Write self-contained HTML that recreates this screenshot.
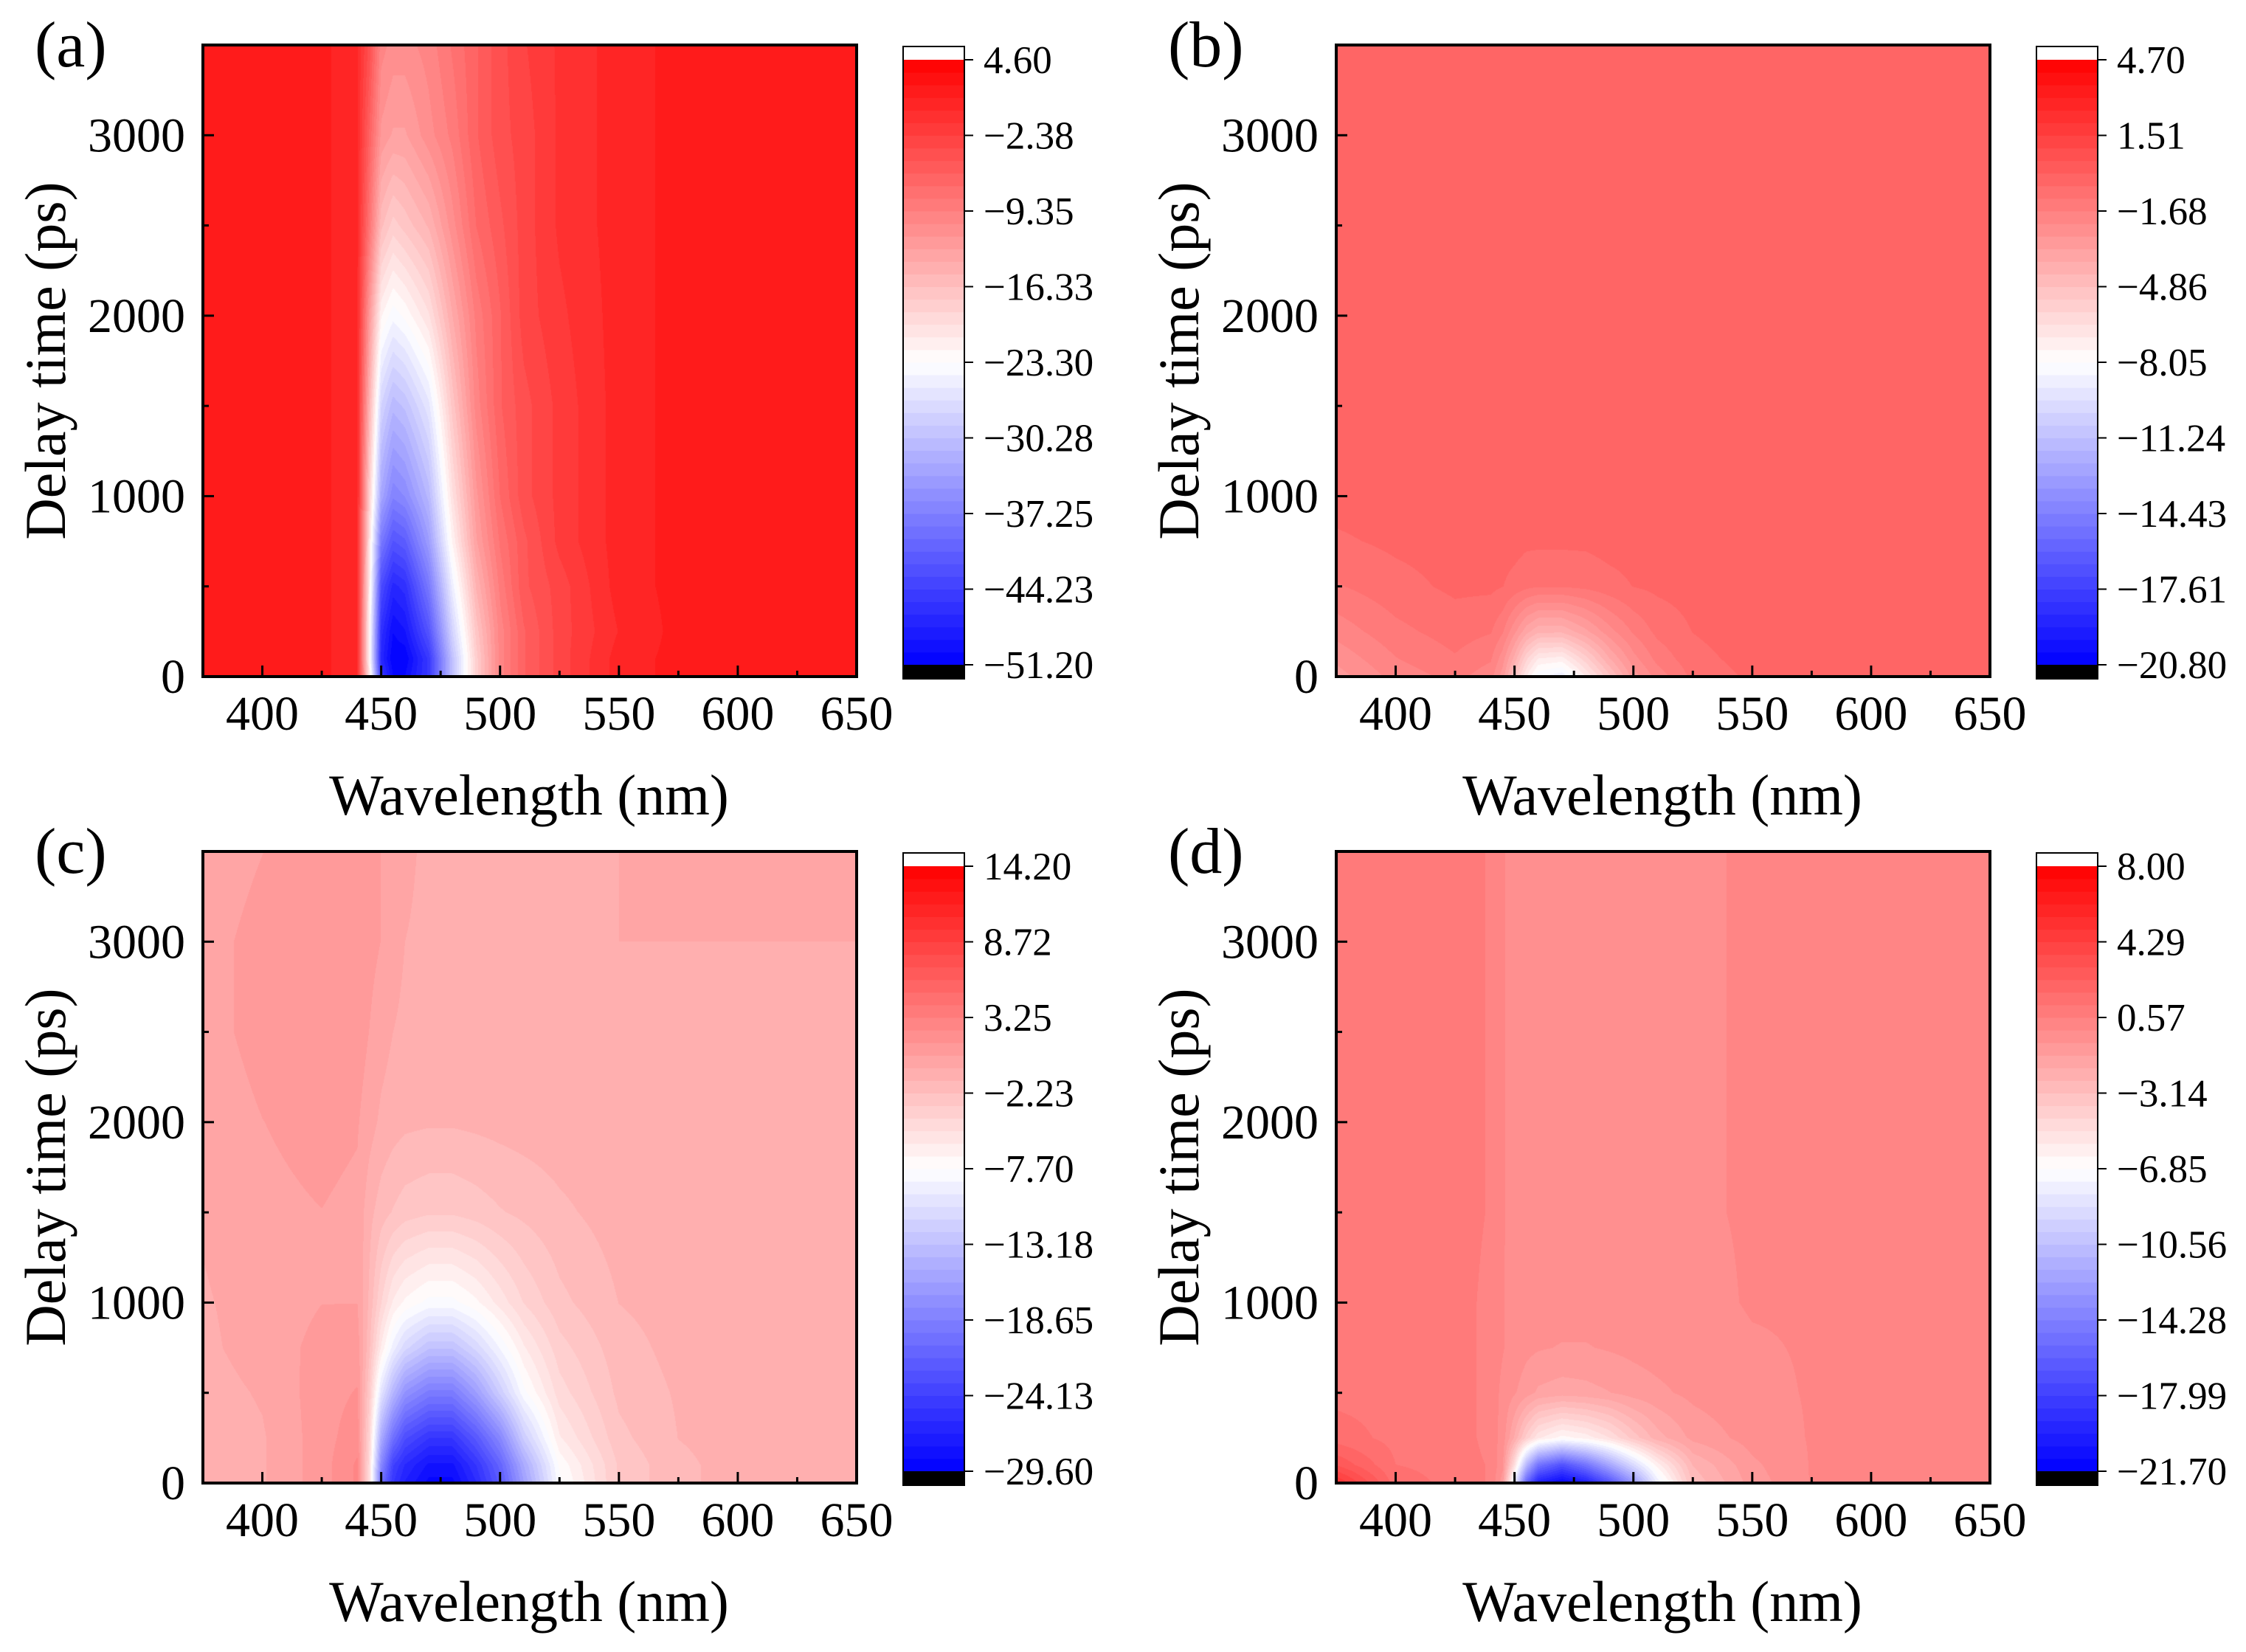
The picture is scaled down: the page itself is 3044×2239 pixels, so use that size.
<!DOCTYPE html>
<html><head><meta charset="utf-8">
<style>
html,body{margin:0;padding:0;background:#fff;}
#root{position:relative;width:3044px;height:2239px;overflow:hidden;background:#fff;}
canvas{position:absolute;}
svg{position:absolute;left:0;top:0;}
text{font-family:"Liberation Serif","Times New Roman",serif;fill:#000;}
</style></head>
<body>
<div id="root">
<svg id="ov" width="3044" height="2239"></svg>
</div>
<script>
// ---- data ----
const wavelengths=[375,400,425,440,445,450,455,460,470,480,490,500,510,525,550,575,600,650];
const delays=[0,100,250,500,750,1000,1500,2000,2500,3000,3500];
const valuesA=[
[1.5,1.5,1.5,0,-20,-45,-50,-50,-45,-30,-18,-10,-6,-3,0.5,1.5,1.5,1.5],
[1.5,1.5,1.5,0,-22,-47,-51,-51,-45,-30,-18,-10,-6,-3,0.5,1.5,1.5,1.5],
[1.5,1.5,1.5,0,-22,-46,-50,-49,-42,-28,-17,-10,-6,-3,0,1.5,1.5,1.5],
[1.5,1.5,1.5,0,-21,-43,-47,-46,-38,-25,-15,-9,-5,-3,0.5,1.5,1.5,1.5],
[1.5,1.5,1.5,0,-20,-38,-42,-41,-34,-22,-13,-8,-5,-2,0.5,1.5,1.5,1.5],
[1.5,1.5,1.5,0,-18,-33,-37,-36,-31,-20,-12,-7,-4,-2,0.5,1.5,1.5,1.5],
[1.5,1.5,1.5,0,-15,-28,-31,-30,-26,-17,-10,-6,-4,-2,0.5,1.5,1.5,1.5],
[1.5,1.5,1.5,0,-12,-22,-24,-23,-20,-14,-9,-6,-3,-1.5,0.5,1.5,1.5,1.5],
[1.5,1.5,1.5,0,-8,-16,-18,-17,-15,-11,-7,-5,-3,-1,0.5,1.5,1.5,1.5],
[1.5,1.5,1.5,0,-6,-12,-13,-13,-11,-9,-6,-4,-3,-1,0.5,1.5,1.5,1.5],
[1.5,1.5,1.5,0,-4,-10,-11,-11,-10,-8,-6,-4,-2.5,-1,0.5,1.5,1.5,1.5]];
const valuesB=[
[-3,-2,-1.5,-2,-3,-5,-7,-8.5,-9,-7,-5,-3,-2,-1,-0.5,-0.3,-0.3,-0.3],
[-2.6,-1.7,-1.2,-1.6,-2.5,-4,-5.8,-7,-7.2,-5.6,-3.8,-2.4,-1.5,-0.8,-0.4,-0.3,-0.3,-0.3],
[-2,-1.3,-0.9,-1.1,-1.6,-2.6,-3.6,-4.2,-4.2,-3.4,-2.4,-1.6,-1,-0.6,-0.3,-0.3,-0.3,-0.3],
[-1.2,-0.8,-0.5,-0.5,-0.6,-0.8,-1,-1.1,-1.1,-1,-0.8,-0.6,-0.5,-0.4,-0.3,-0.3,-0.3,-0.3],
[-0.7,-0.5,-0.4,-0.4,-0.4,-0.4,-0.5,-0.5,-0.5,-0.5,-0.4,-0.4,-0.3,-0.3,-0.3,-0.3,-0.3,-0.3],
[-0.4,-0.3,-0.3,-0.3,-0.3,-0.3,-0.3,-0.3,-0.3,-0.3,-0.3,-0.3,-0.3,-0.3,-0.3,-0.3,-0.3,-0.3],
[-0.3,-0.3,-0.3,-0.3,-0.3,-0.3,-0.3,-0.3,-0.3,-0.3,-0.3,-0.3,-0.3,-0.3,-0.3,-0.3,-0.3,-0.3],
[-0.3,-0.3,-0.3,-0.3,-0.3,-0.3,-0.3,-0.3,-0.3,-0.3,-0.3,-0.3,-0.3,-0.3,-0.3,-0.3,-0.3,-0.3],
[-0.3,-0.3,-0.3,-0.3,-0.3,-0.3,-0.3,-0.3,-0.3,-0.3,-0.3,-0.3,-0.3,-0.3,-0.3,-0.3,-0.3,-0.3],
[-0.3,-0.3,-0.3,-0.3,-0.3,-0.3,-0.3,-0.3,-0.3,-0.3,-0.3,-0.3,-0.3,-0.3,-0.3,-0.3,-0.3,-0.3],
[-0.3,-0.3,-0.3,-0.3,-0.3,-0.3,-0.3,-0.3,-0.3,-0.3,-0.3,-0.3,-0.3,-0.3,-0.3,-0.3,-0.3,-0.3]];
const valuesC=[
[-1,-0.5,1,2.5,-5,-20,-25,-27,-29,-29,-26,-22,-16,-8,-3,-1.5,-1,-1],
[-1,-0.5,1,2.5,-4.5,-18,-24,-26,-28,-28,-25,-21,-15,-7.5,-3,-1.5,-1,-1],
[-1,-0.5,1,2,-4,-15,-20,-23,-25,-25,-22,-18,-12,-6,-2.5,-1.3,-1,-1],
[-0.8,-0.3,1,1.5,-3,-10,-14,-17,-19,-19,-16,-12,-8,-4.5,-2,-1.2,-1,-1],
[-0.6,0,0.8,1,-2,-6,-9,-11,-13,-13,-11,-8.5,-6,-3.5,-1.7,-1,-0.8,-0.8],
[-0.5,0,0.5,0.5,-1.5,-4,-6,-7,-8,-8,-7,-5.5,-4,-2.5,-1.3,-0.9,-0.8,-0.8],
[-0.3,0.3,0.5,0.3,-1,-1.8,-2.3,-2.7,-3,-3,-2.7,-2.3,-2,-1.5,-0.9,-0.8,-0.7,-0.7],
[0,0.5,0.8,0.6,0,-0.6,-0.9,-1.1,-1.2,-1.2,-1.1,-1,-0.9,-0.8,-0.7,-0.6,-0.6,-0.6],
[0.2,0.8,1,1,0.5,0,-0.4,-0.6,-0.7,-0.7,-0.7,-0.6,-0.6,-0.6,-0.5,-0.5,-0.5,-0.5],
[0.2,0.8,1,1,0.8,0.5,0,-0.4,-0.5,-0.5,-0.5,-0.5,-0.5,-0.5,-0.4,-0.4,-0.4,-0.4],
[0,0.5,1,1,0.8,0.5,0,-0.3,-0.5,-0.5,-0.5,-0.5,-0.5,-0.5,-0.4,-0.4,-0.4,-0.4]];
const valuesD=[
[5,1.5,1,0.5,-1,-8,-16,-20,-21.5,-20,-17,-13,-8,-3,-1,0,0,0],
[3,1.2,1,0.5,-0.5,-5,-11,-15,-17,-15,-12,-9,-6,-2.5,-0.8,0,0,0],
[1.5,1,1,0.3,-0.3,-2,-4,-5.5,-6.5,-6,-5,-3.5,-2.2,-1.1,-0.4,0,0,0],
[1,1,1,0.3,-0.2,-0.6,-1,-1.4,-1.6,-1.5,-1.3,-1,-0.8,-0.5,-0.2,0,0,0],
[1,1,1,0.3,0,-0.3,-0.5,-0.6,-0.7,-0.7,-0.6,-0.5,-0.4,-0.3,-0.1,0,0,0],
[1,1,1,0.3,0,-0.3,-0.4,-0.4,-0.4,-0.4,-0.4,-0.3,-0.3,-0.2,0,0,0,0],
[1,1,1,0.5,0,-0.2,-0.3,-0.3,-0.3,-0.3,-0.3,-0.2,-0.2,-0.1,0,0,0,0],
[1,1,1,0.5,0,-0.2,-0.3,-0.3,-0.3,-0.3,-0.3,-0.2,-0.2,-0.1,0,0,0,0],
[1,1,1,0.5,0,-0.2,-0.3,-0.3,-0.3,-0.3,-0.3,-0.2,-0.2,-0.1,0,0,0,0],
[1,1,1,0.5,0,-0.2,-0.3,-0.3,-0.3,-0.3,-0.3,-0.2,-0.2,-0.1,0,0,0,0],
[1,1,1,0.5,0,-0.2,-0.3,-0.3,-0.3,-0.3,-0.3,-0.2,-0.2,-0.1,0,0,0,0]];
const cbarMin=[-51.2,-20.8,-29.6,-21.7];
const cbarMax=[4.6,4.7,14.2,8.0];
const cbarLabelsA=['4.60','\u22122.38','\u22129.35','\u221216.33','\u221223.30','\u221230.28','\u221237.25','\u221244.23','\u221251.20'];
const cbarLabelsB=['4.70','1.51','\u22121.68','\u22124.86','\u22128.05','\u221211.24','\u221214.43','\u221217.61','\u221220.80'];
const cbarLabelsC=['14.20','8.72','3.25','\u22122.23','\u22127.70','\u221213.18','\u221218.65','\u221224.13','\u221229.60'];
const cbarLabelsD=['8.00','4.29','0.57','\u22123.14','\u22126.85','\u221210.56','\u221214.28','\u221217.99','\u221221.70'];
const panelLetters=['(a)','(b)','(c)','(d)'];
const xTicks=[400,450,500,550,600,650];
const xMinorTicks=[425,475,525,575,625];
const yTicks=[0,1000,2000,3000];
const yMinorTicks=[500,1500,2500];

// ---- layout ----
const X0=375,X1=650,Y0=0,Y1=3500,NLEV=48;
const offsets=[[0,0],[1536,0],[0,1093],[1536,1093]];
const PL=275,PR=1161,PT=61,PB=917;
const CBL=1224,CBR=1307,CBT=81,CBB=901;
const allValues=[valuesA,valuesB,valuesC,valuesD];
const allLabels=[cbarLabelsA,cbarLabelsB,cbarLabelsC,cbarLabelsD];
const NS='http://www.w3.org/2000/svg';
const svg=document.getElementById('ov');
const root=document.getElementById('root');
function mk(tag,attrs,parent){const e=document.createElementNS(NS,tag);for(const k in attrs)e.setAttribute(k,attrs[k]);(parent||svg).appendChild(e);return e;}
function col(t){let k=Math.floor(t*NLEV);if(k<0)k=0;if(k>NLEV-1)k=NLEV-1;const q=(k+0.5)/NLEV;
 if(q<0.5){const s=q/0.5;return [Math.round(255*s),Math.round(255*s),255];}
 const s=(q-0.5)/0.5;return [255,Math.round(255*(1-s)),Math.round(255*(1-s))];}
function findIdx(arr,v){for(let i=0;i<arr.length-1;i++){if(v<=arr[i+1])return i;}return arr.length-2;}

offsets.forEach((off,p)=>{
 const ox=off[0],oy=off[1];
 const L=PL+ox,R=PR+ox,T=PT+oy,B=PB+oy,W=R-L,H=B-T;
 const xs=v=>L+(v-X0)/(X1-X0)*W;
 const ys=v=>B-(v-Y0)/(Y1-Y0)*H;
 const vals=allValues[p],vmin=cbarMin[p],vmax=cbarMax[p];
 const cv=document.createElement('canvas');
 cv.width=W;cv.height=H;cv.style.left=L+'px';cv.style.top=T+'px';
 
 
 root.insertBefore(cv,svg);
 const ctx=cv.getContext('2d');const img=ctx.createImageData(W,H);
 const colI=[],colF=[];
 for(let x=0;x<W;x++){const wl=X0+(x+0.5)/W*(X1-X0);const i=findIdx(wavelengths,wl);colI.push(i);colF.push(Math.min(1,Math.max(0,(wl-wavelengths[i])/(wavelengths[i+1]-wavelengths[i]))));}
 for(let y=0;y<H;y++){
  const d=Y0+(H-y-0.5)/H*(Y1-Y0);const j=findIdx(delays,d);const fy=Math.min(1,Math.max(0,(d-delays[j])/(delays[j+1]-delays[j])));
  const r0=vals[j],r1=vals[j+1];
  for(let x=0;x<W;x++){const i=colI[x],fx=colF[x];
   const v=(r0[i]*(1-fx)+r0[i+1]*fx)*(1-fy)+(r1[i]*(1-fx)+r1[i+1]*fx)*fy;
   const c=col((v-vmin)/(vmax-vmin));const k=(y*W+x)*4;
   img.data[k]=c[0];img.data[k+1]=c[1];img.data[k+2]=c[2];img.data[k+3]=255;}
 }
 ctx.putImageData(img,0,0);
 const fr=mk('rect',{x:L,y:T,width:W,height:H,fill:'none',stroke:'#000','stroke-width':4});
 
 
 xTicks.forEach(v=>{
  const tk=mk('line',{x1:xs(v),x2:xs(v),y1:B,y2:B-15,stroke:'#000','stroke-width':3});
  
  
  const tl=mk('text',{x:xs(v),y:B+72,'font-size':66,'text-anchor':'middle'});tl.textContent=v;
  
  
 });
 xMinorTicks.forEach(v=>{
  const tk=mk('line',{x1:xs(v),x2:xs(v),y1:B,y2:B-8,stroke:'#000','stroke-width':3});
  
  
 });
 yTicks.forEach(v=>{
  const tk=mk('line',{x1:L,x2:L+15,y1:ys(v),y2:ys(v),stroke:'#000','stroke-width':3});
  
  
  const tl=mk('text',{x:L-24,y:ys(v)+22,'font-size':66,'text-anchor':'end'});tl.textContent=v;
  
  
 });
 yMinorTicks.forEach(v=>{
  const tk=mk('line',{x1:L,x2:L+8,y1:ys(v),y2:ys(v),stroke:'#000','stroke-width':3});
  
  
 });
 const xt=mk('text',{x:717+ox,y:1104+oy,'font-size':78,'text-anchor':'middle'});xt.textContent='Wavelength (nm)';
 
 
 const yt=mk('text',{x:0,y:0,'font-size':78,'text-anchor':'middle',transform:'translate('+(88+ox)+','+(489+oy)+') rotate(-90)'});yt.textContent='Delay time (ps)';
 
 
 const pl=mk('text',{x:47+ox,y:90+oy,'font-size':88});pl.textContent=panelLetters[p];
 
 
 const cl=CBL+ox,cr=CBR+ox,ct=CBT+oy,cb=CBB+oy,bh=(cb-ct)/NLEV;
 for(let k=0;k<NLEV;k++){const c=col((k+0.5)/NLEV);
  const band=mk('rect',{x:cl,y:cb-(k+1)*bh-0.5,width:cr-cl,height:bh+1,fill:'rgb('+c.join(',')+')'});
  
  
 }
 const wc=mk('rect',{x:cl,y:ct-18,width:cr-cl,height:18,fill:'#fff'});
 
 
 const bc=mk('rect',{x:cl,y:cb,width:cr-cl,height:19,fill:'#000'});
 
 
 const cfr=mk('rect',{x:cl,y:ct-18,width:cr-cl,height:cb-ct+37,fill:'none',stroke:'#000','stroke-width':2});
 
 
 const labs=allLabels[p];
 for(let i=0;i<labs.length;i++){const y=ct+i*(cb-ct)/(labs.length-1);
  const tk=mk('line',{x1:cr,x2:cr+12,y1:y,y2:y,stroke:'#000','stroke-width':2});
  
  
  const tl=mk('text',{x:cr+26,y:y+18,'font-size':53});tl.textContent=labs[i];
  
  
 }
});
</script>
</body></html>
